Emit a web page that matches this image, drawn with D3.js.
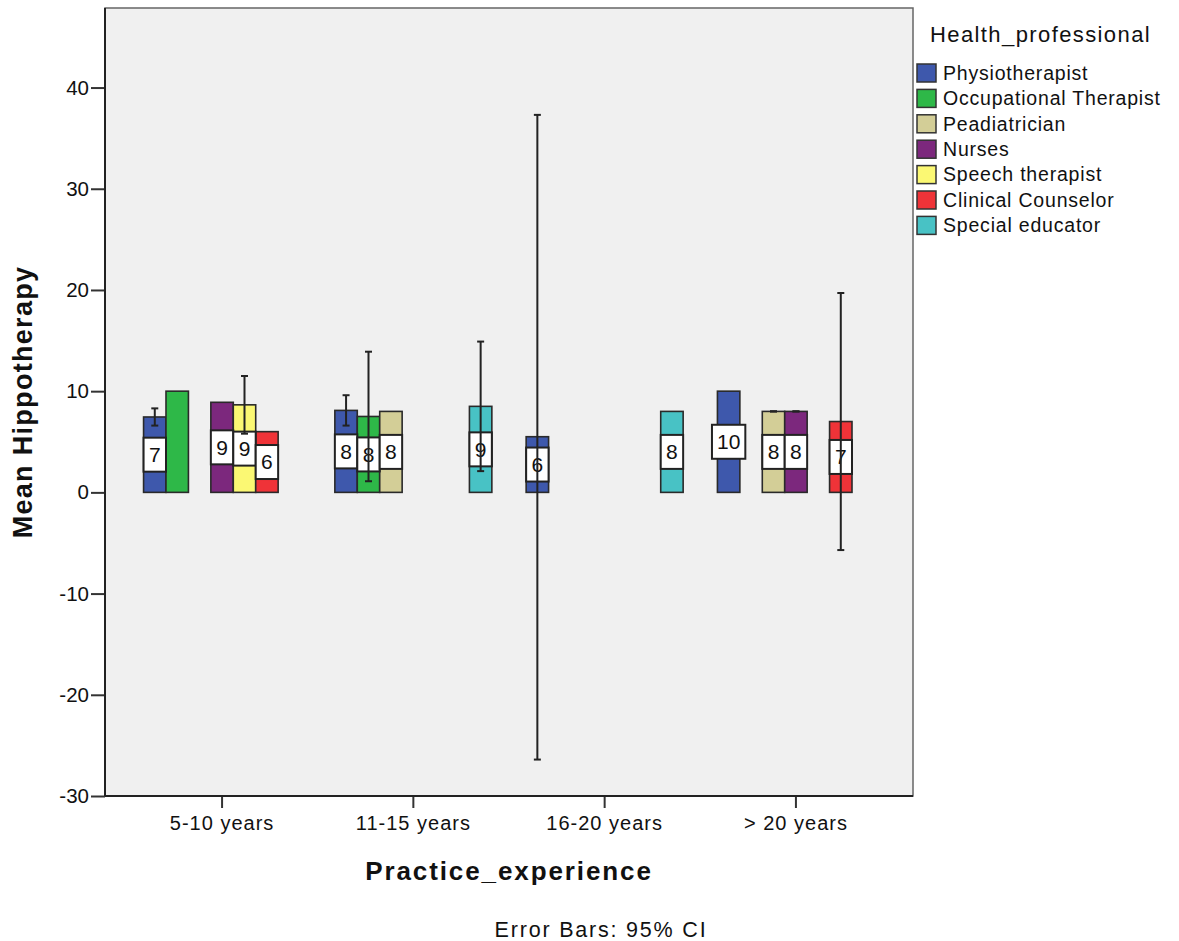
<!DOCTYPE html>
<html>
<head>
<meta charset="utf-8">
<script src="https://cdn.jsdelivr.net/npm/d3@7"></script>
<style>
  body { margin: 0; background: #fff; }
  svg text { font-family: "Liberation Sans", Arial, sans-serif; fill: #111; }
</style>
</head>
<body>
<div id="chart"></div>
<script>
const categories = ['5-10 years', '11-15 years', '16-20 years', '> 20 years'];
const professions = ['Physiotherapist', 'Occupational Therapist', 'Peadiatrician', 'Nurses',
  'Speech therapist', 'Clinical Counselor', 'Special educator'];
const colors = ['#3e58ac', '#2eb848', '#d3ce97', '#7c287d', '#fbf873', '#ef3338', '#48c2c5'];

// rows = professions, columns = categories (null = no bar)
const means = [
  [7.45, 8.1, 5.5, 10],
  [10, 7.5, null, null],
  [null, 8, null, 8],
  [8.9, null, null, 8],
  [8.65, null, null, null],
  [6, null, null, 7],
  [null, 8.5, 8, null]
];
const ciLow = [
  [6.6, 6.6, -26.4, null],
  [null, 1.1, null, null],
  [null, null, null, 8],
  [null, null, null, 8],
  [5.8, null, null, null],
  [null, null, null, -5.7],
  [null, 2.1, null, null]
];
const ciHigh = [
  [8.3, 9.6, 37.3, null],
  [null, 13.9, null, null],
  [null, null, null, 8],
  [null, null, null, 8],
  [11.5, null, null, null],
  [null, null, null, 19.7],
  [null, 14.9, null, null]
];
const barLabels = [
  ['7', '8', '6', '10'],
  [null, '8', null, null],
  [null, '8', null, '8'],
  ['9', null, null, '8'],
  ['9', null, null, null],
  ['6', null, null, '7'],
  [null, '9', '8', null]
];
const yTicks = [-30, -20, -10, 0, 10, 20, 30, 40];

const width = 1179, height = 941;
const plot = { left: 105, right: 913, top: 8, bottom: 796 };

const svg = d3.select('#chart').append('svg')
  .attr('width', width)
  .attr('height', height);

const y = d3.scaleLinear()
  .domain([-30, 47.86])
  .range([plot.bottom, plot.top]);

const x0 = d3.scaleBand()
  .domain(categories)
  .range([plot.left, plot.right])
  .paddingInner(0)
  .paddingOuter(0.112);

const x1 = d3.scaleBand()
  .domain(professions)
  .range([-78.5, 78.5]);

// plot background
svg.append('rect')
  .attr('x', plot.left).attr('y', plot.top)
  .attr('width', plot.right - plot.left).attr('height', plot.bottom - plot.top)
  .attr('fill', '#f0f0f0')
  .attr('stroke', '#666').attr('stroke-width', 1.5);

// flatten to bar records
const bars = [];
professions.forEach((p, i) => {
  categories.forEach((c, j) => {
    if (means[i][j] == null) return;
    bars.push({ prof: p, cat: c, color: colors[i], mean: means[i][j],
      lo: ciLow[i][j], hi: ciHigh[i][j], label: barLabels[i][j] });
  });
});
const bx = d => x0(d.cat) + x0.bandwidth() / 2 + x1(d.prof);

svg.append('g').selectAll('rect')
  .data(bars)
  .join('rect')
  .attr('x', d => bx(d))
  .attr('y', d => y(d.mean))
  .attr('width', x1.bandwidth())
  .attr('height', d => y(0) - y(d.mean))
  .attr('fill', d => d.color)
  .attr('stroke', '#2a2a2a')
  .attr('stroke-width', 1.6);

// value labels
const lab = svg.append('g').selectAll('g')
  .data(bars.filter(d => d.label))
  .join('g')
  .attr('transform', d => `translate(${bx(d) + x1.bandwidth() / 2},${y(d.mean / 2)})`);

lab.append('text')
  .attr('text-anchor', 'middle')
  .attr('dy', '0.35em')
  .style('font-size', '21px')
  .text(d => d.label)
  .each(function(d) { d.tw = this.getComputedTextLength(); });

lab.insert('rect', 'text')
  .attr('x', d => -Math.max(x1.bandwidth(), d.tw + 10) / 2)
  .attr('y', -17)
  .attr('width', d => Math.max(x1.bandwidth(), d.tw + 10))
  .attr('height', 34)
  .attr('fill', '#fff')
  .attr('stroke', '#222')
  .attr('stroke-width', 2);

// error bars
const err = svg.append('g').selectAll('g')
  .data(bars.filter(d => d.lo != null))
  .join('g')
  .attr('stroke', '#222')
  .attr('stroke-width', 2);
const cx = d => bx(d) + x1.bandwidth() / 2;
err.append('line')
  .attr('x1', cx).attr('x2', cx)
  .attr('y1', d => y(d.hi)).attr('y2', d => y(d.lo));
err.append('line')
  .attr('x1', d => cx(d) - 3.5).attr('x2', d => cx(d) + 3.5)
  .attr('y1', d => y(d.hi)).attr('y2', d => y(d.hi));
err.append('line')
  .attr('x1', d => cx(d) - 3.5).attr('x2', d => cx(d) + 3.5)
  .attr('y1', d => y(d.lo)).attr('y2', d => y(d.lo));

// axes
const yAxis = svg.append('g')
  .attr('transform', `translate(${plot.left},0)`)
  .call(d3.axisLeft(y).tickValues(yTicks).tickFormat(d => String(d)).tickSize(14).tickPadding(2))
  .call(g => g.select('.domain').remove());
yAxis.selectAll('line').attr('stroke', '#333').attr('stroke-width', 2);
yAxis.selectAll('text').attr('fill', '#111').style('font-size', '20.5px');

const xAxis = svg.append('g')
  .attr('transform', `translate(0,${plot.bottom})`)
  .call(d3.axisBottom(x0).tickSize(12).tickPadding(8))
  .call(g => g.select('.domain').remove());
xAxis.selectAll('line').attr('stroke', '#333').attr('stroke-width', 2);
xAxis.selectAll('text').attr('fill', '#111').style('font-size', '20px').style('letter-spacing', '1px');

svg.append('line')
  .attr('x1', plot.left).attr('x2', plot.left)
  .attr('y1', plot.top).attr('y2', plot.bottom)
  .attr('stroke', '#222').attr('stroke-width', 2);
svg.append('line')
  .attr('x1', plot.left).attr('x2', plot.right)
  .attr('y1', plot.bottom).attr('y2', plot.bottom)
  .attr('stroke', '#222').attr('stroke-width', 2);

// titles
svg.append('text')
  .attr('transform', `translate(32,${(plot.top + plot.bottom) / 2}) rotate(-90)`)
  .attr('text-anchor', 'middle')
  .style('font-size', '27px').style('font-weight', 'bold').style('letter-spacing', '1.3px')
  .text('Mean Hippotherapy');

svg.append('text')
  .attr('x', (plot.left + plot.right) / 2).attr('y', 880)
  .attr('text-anchor', 'middle')
  .style('font-size', '26px').style('font-weight', 'bold').style('letter-spacing', '1.9px')
  .text('Practice_experience');

svg.append('text')
  .attr('x', 601).attr('y', 936.5)
  .attr('text-anchor', 'middle')
  .style('font-size', '21.5px').style('letter-spacing', '1.8px')
  .text('Error Bars: 95% CI');

// legend
const legend = svg.append('g').attr('transform', 'translate(917,0)');
legend.append('text')
  .attr('x', 13).attr('y', 42)
  .style('font-size', '22px').style('letter-spacing', '1.4px')
  .text('Health_professional');

const items = legend.selectAll('g.item')
  .data(professions)
  .join('g')
  .attr('class', 'item')
  .attr('transform', (d, i) => `translate(0,${64 + i * 25.4})`);
items.append('rect')
  .attr('width', 19).attr('height', 18)
  .attr('fill', (d, i) => colors[i])
  .attr('stroke', '#333').attr('stroke-width', 1.5);
items.append('text')
  .attr('x', 26).attr('y', 9).attr('dy', '0.35em')
  .style('font-size', '19.5px').style('letter-spacing', '0.8px')
  .text(d => d);
</script>
</body>
</html>
